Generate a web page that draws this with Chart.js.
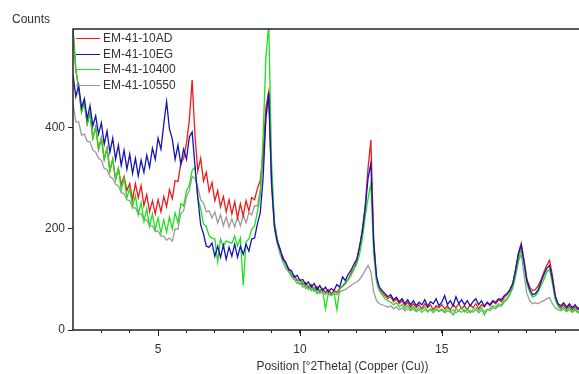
<!DOCTYPE html>
<html>
<head>
<meta charset="utf-8">
<script src="https://cdn.jsdelivr.net/npm/chart.js@4.4.1/dist/chart.umd.min.js"></script>
<style>
  html, body { margin:0; padding:0; background:#fff; overflow:hidden; }
  #wrap { width:630px; height:374px; }
</style>
</head>
<body>
<div id="wrap"><canvas id="xrd" width="630" height="374"></canvas></div>
<script>
/* scan: 2.0 .. 21.0 °2Theta, step 0.1 */
const START = 2.0, STEP = 0.1;

const seriesNames  = ["EM-41-10AD", "EM-41-10EG", "EM-41-10400", "EM-41-10550"];
const seriesColors = ["#ee1a1a", "#1414b4", "#1ee01e", "#9a9a9a"];

const cntAD = [
  595,515,478,432,452,408,428,380,402,358, 380,338,360,315,338,298,320,288,304,276,
  290,258,290,262,286,246,268,234,256,230, 258,234,264,244,278,260,296,294,330,340,
  370,415,495,385,315,340,295,312,274,292, 256,276,244,264,234,258,230,254,222,250,
  226,256,236,262,258,280,296,350,440,472, 300,210,180,158,145,130,122,110,108,98,
  100,90,94,84,90,80,86,76,82,74,          80,72,78,74,82,86,92,100,112,122,
  135,162,200,245,320,376,180,102,82,74,   68,62,66,56,62,52,58,48,55,45,
  52,44,50,42,52,44,50,40,48,44,           50,42,48,40,50,44,52,42,48,40,
  50,44,52,42,50,46,54,48,56,52,           60,56,64,70,78,90,120,152,172,138,
  100,85,78,80,88,100,115,128,138,108,     68,50,44,50,42,48,40,46,40,45,
  41,47,40,45,39,46,40,44,39,45,40
];
const cntEG = [
  505,462,484,440,458,418,444,404,424,388, 410,368,394,352,380,338,366,326,356,318,
  348,310,340,305,336,312,346,322,360,338, 380,358,408,452,398,378,338,366,328,358,
  338,382,392,325,262,208,190,166,164,172, 146,166,144,168,140,164,146,170,144,166,
  150,170,156,180,182,210,232,300,420,470, 290,205,175,160,140,135,120,118,105,108,
  98,100,90,95,85,92,80,88,78,85,          75,82,78,90,85,105,98,110,118,130,
  140,165,195,240,300,330,170,105,85,78,   72,66,70,60,65,56,62,52,60,50,
  58,48,55,50,60,47,56,52,62,48,           55,68,50,58,48,66,52,60,50,58,
  48,56,62,50,58,47,55,50,58,55,           62,60,68,72,80,92,118,150,168,135,
  98,80,70,72,80,95,110,122,128,100,       66,52,48,54,45,52,44,50,42,48,
  44,50,42,47,43,49,41,46,42,47,43
];
const cnt10400 = [
  595,515,478,432,452,408,428,380,402,358, 380,338,360,315,338,298,320,278,300,262,
  280,244,266,228,252,215,240,205,230,198, 222,192,218,194,224,200,232,212,250,246,
  276,286,316,322,262,240,210,205,186,182, 180,135,180,166,176,174,172,186,166,182,
  88,175,180,200,206,234,266,380,540,605,  330,215,180,160,138,128,118,110,100,98,
  90,95,82,88,78,84,72,80,78,42,           72,68,75,40,80,88,95,100,108,120,
  130,150,180,225,260,290,150,95,78,70,    62,58,55,50,54,46,50,42,48,40,
  46,38,44,40,46,36,42,38,44,37,           42,36,44,38,30,42,38,45,36,42,
  34,40,44,38,45,30,40,42,48,45,           52,50,58,62,72,85,110,140,160,128,
  92,75,65,68,75,88,100,115,120,92,        60,46,40,45,38,44,36,42,35,40,
  36,42,35,40,34,41,35,39,34,40,35
];
const cnt10550 = [
  448,412,412,386,388,374,372,356,352,340, 336,320,318,304,300,288,286,272,270,258,
  256,242,242,230,230,218,218,206,206,196, 196,186,186,178,182,176,200,200,230,236,
  264,276,304,300,284,258,252,234,236,222, 234,212,228,206,224,204,220,204,224,206,
  228,212,232,228,246,246,278,330,420,460, 285,200,170,150,135,122,115,105,100,92,
  94,85,88,80,84,76,80,72,76,70,           74,68,72,70,75,78,80,84,88,92,
  95,100,108,118,128,115,75,58,52,50,      48,45,48,42,46,40,44,38,42,38,
  42,36,40,35,40,36,40,34,40,36,           40,34,38,35,40,34,38,35,40,34,
  38,35,40,34,39,36,41,38,44,42,           48,47,55,60,70,82,105,135,150,110,
  72,58,52,54,52,56,58,62,64,52,           44,40,38,42,36,40,35,39,34,38,
  35,39,34,38,33,38,34,37,33,38,34
];

const xMajor = [5, 10, 15];
const yTicks = [0, 200, 400];

const toPoints = arr => arr.map((y, i) => ({ x: +(START + i * STEP).toFixed(1), y }));
const allCounts = [cntAD, cntEG, cnt10400, cnt10550];
const drawOrder = [3, 1, 2, 4];   // gray lowest, blue on top

const FONT = "'Liberation Sans', Arial, sans-serif";

const decor = {
  id: "decor",
  afterDatasetsDraw(chart) {
    const { ctx, chartArea: a, scales } = chart;
    ctx.save();
    ctx.strokeStyle = "#222";
    ctx.lineWidth = 1.5;
    ctx.strokeRect(a.left, a.top, a.right - a.left, a.bottom - a.top);
    ctx.lineWidth = 1;
    xMajor.forEach(v => {
      const px = Math.round(scales.x.getPixelForValue(v)) + 0.5;
      ctx.beginPath(); ctx.moveTo(px, a.bottom); ctx.lineTo(px, a.bottom + 6); ctx.stroke();
    });
    ctx.font = "12px " + FONT;
    ctx.textBaseline = "middle";
    seriesNames.forEach((n, i) => {
      const y = Math.round(38 + i * 15.5) + 0.5;
      ctx.strokeStyle = seriesColors[i];
      ctx.beginPath(); ctx.moveTo(a.left + 3, y); ctx.lineTo(a.left + 27, y); ctx.stroke();
      ctx.fillStyle = "#333";
      ctx.fillText(n, a.left + 30, y);
    });
    ctx.fillStyle = "#333";
    ctx.fillText("Counts", 12, 20);
    ctx.restore();
  }
};

new Chart(document.getElementById("xrd"), {
  type: "line",
  data: {
    datasets: seriesNames.map((name, i) => ({
      label: name,
      data: toPoints(allCounts[i]),
      borderColor: seriesColors[i],
      borderWidth: 1.3,
      pointRadius: 0,
      tension: 0,
      fill: false,
      order: drawOrder[i]
    }))
  },
  options: {
    responsive: false,
    animation: false,
    layout: { padding: { top: 29, right: 18, left: 0, bottom: 0 } },
    plugins: { legend: { display: false }, tooltip: { enabled: false } },
    scales: {
      x: {
        type: "linear", min: 2, max: 21,
        afterBuildTicks: s => { s.ticks = s.ticks.filter(t => t.value > 2 && t.value < 21); },
        afterFit: s => { s.height = 44; },
        ticks: {
          stepSize: 1, autoSkip: false, maxRotation: 0, padding: 9,
          color: "#333", font: { family: FONT, size: 12 },
          callback: v => xMajor.includes(v) ? String(v) : ""
        },
        grid: { display: true, drawOnChartArea: false, drawTicks: true, tickLength: 3, tickColor: "#222" },
        border: { display: false },
        title: {
          display: true, text: "Position [°2Theta] (Copper (Cu))",
          color: "#333", font: { family: FONT, size: 12 }, padding: { top: 0, bottom: 0 }
        }
      },
      y: {
        min: 0, max: 596,
        afterBuildTicks: s => { s.ticks = yTicks.map(v => ({ value: v })); },
        afterFit: s => { s.width = 73; },
        ticks: { color: "#333", padding: 3, font: { family: FONT, size: 12 } },
        grid: { display: true, drawOnChartArea: false, drawTicks: true, tickLength: 5, tickColor: "#222" },
        border: { display: false }
      }
    }
  },
  plugins: [decor]
});
</script>
</body>
</html>
